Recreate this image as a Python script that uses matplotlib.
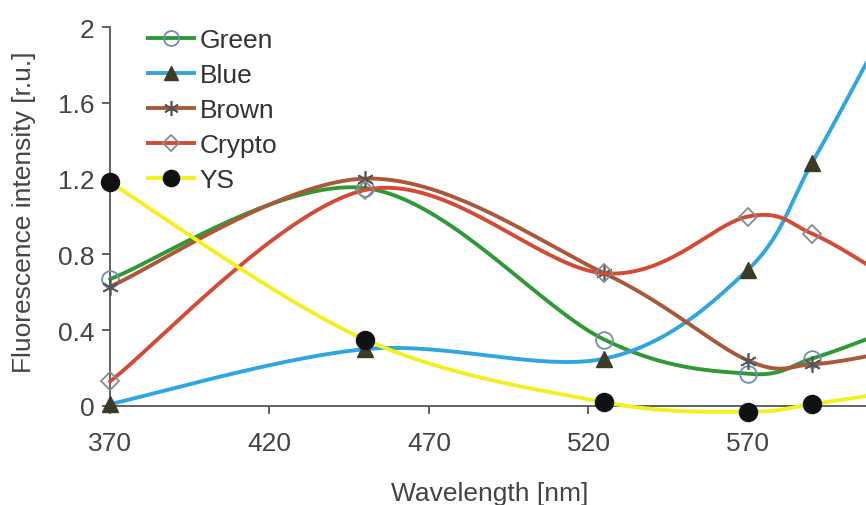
import numpy as np
import matplotlib
matplotlib.use("Agg")
import matplotlib.pyplot as plt
from matplotlib.lines import Line2D

# ---- data ----
wavelength = [370, 450, 525, 570, 590, 610]
green  = [0.67, 1.15, 0.35, 0.17, 0.25, 0.37]
blue   = [0.01, 0.30, 0.25, 0.72, 1.28, 1.90]
brown  = [0.63, 1.20, 0.70, 0.24, 0.22, 0.27]
crypto = [0.13, 1.14, 0.70, 1.00, 0.91, 0.72]
ys     = [1.18, 0.35, 0.02, -0.03, 0.01, 0.06]
series_names = ["Green", "Blue", "Brown", "Crypto", "YS"]
x_ticks = [370, 420, 470, 520, 570]
y_ticks = [0, 0.4, 0.8, 1.2, 1.6, 2]
y_tick_labels = ["0", "0.4", "0.8", "1.2", "1.6", "2"]

plt.rcParams['font.family'] = ['Liberation Sans', 'DejaVu Sans']

W, H = 866, 506
fig = plt.figure(figsize=(W / 100, H / 100), dpi=100)
ax = fig.add_axes([110 / W, (H - 407) / H, (W - 110) / W, (407 - 28) / H])

# scales for smoothing in screen space
sx = 3.2      # px per nm
sy = 189.5    # px per unit


def smooth(xs, vs, n=40):
    P = np.column_stack([np.asarray(xs, float) * sx, np.asarray(vs, float) * sy])
    out = []
    m = len(P)
    for i in range(m - 1):
        p0 = P[i - 1] if i > 0 else P[i]
        p1 = P[i]
        p2 = P[i + 1]
        p3 = P[i + 2] if i + 2 < m else P[i + 1]
        c1 = p1 + (p2 - p0) / 6.0
        c2 = p2 - (p3 - p1) / 6.0
        t = np.linspace(0, 1, n)[:, None]
        seg = ((1 - t) ** 3) * p1 + 3 * ((1 - t) ** 2) * t * c1 + 3 * (1 - t) * t ** 2 * c2 + t ** 3 * p2
        out.append(seg if i == 0 else seg[1:])
    S = np.vstack(out)
    return S[:, 0] / sx, S[:, 1] / sy


styles = [
    dict(data=green, color="#2f9a35", marker="o", mfc="none", mec="#6f8fb0", ms=12, mew=1.3),
    dict(data=blue, color="#2ea7df", marker="^", mfc="#3d3a26", mec="#3d3a26", ms=11, mew=1),
    dict(data=brown, color="#a9583a", marker=(6, 2, 0), mfc="#555555", mec="#555555", ms=12, mew=1.2),
    dict(data=crypto, color="#d44a35", marker="D", mfc="none", mec="#8a8a8a", ms=9, mew=1.3),
    dict(data=ys, color="#f4ef1e", marker="o", mfc="#111111", mec="#111111", ms=13, mew=1),
]

handles = []
for k, (name, st) in enumerate(zip(series_names, styles)):
    xs_s, ys_s = smooth(wavelength, st["data"])
    ax.plot(xs_s, ys_s, color=st["color"], lw=2.8, clip_on=False, zorder=3 + k,
            solid_capstyle="round")
    ax.plot(wavelength, st["data"], linestyle="none", marker=st["marker"], mfc=st["mfc"],
            mec=st["mec"], ms=st["ms"], mew=st["mew"], clip_on=False, zorder=3.5 + k)
    handles.append(Line2D([0], [0], color=st["color"], lw=2.8, marker=st["marker"],
                          mfc=st["mfc"], mec=st["mec"], ms=st["ms"] * 0.9, mew=st["mew"]))

for s in ["top", "right"]:
    ax.spines[s].set_visible(False)
for s in ["left", "bottom"]:
    ax.spines[s].set_color("#555555")
    ax.spines[s].set_linewidth(1.3)
    ax.spines[s].set_zorder(2)

ax.set_xticks(x_ticks)
ax.set_yticks(y_ticks)
ax.set_yticklabels(y_tick_labels)
ax.set_xlim(370, 607)
ax.set_ylim(0, 2)
ax.tick_params(axis="both", direction="out", length=6, width=1.3, color="#555555",
               labelsize=19, labelcolor="#444444")
ax.tick_params(axis="x", pad=12)
ax.tick_params(axis="y", pad=5)

ax.set_xlabel("Wavelength [nm]", fontsize=19, color="#444444")
ax.xaxis.set_label_coords((490 - 110) / 756, (407 - 482) / 379)
ax.set_ylabel("Fluorescence intensity [r.u.]", fontsize=19, color="#444444")
ax.yaxis.set_label_coords((36 - 110) / 756, (407 - 212) / 379)

leg = fig.legend(handles, series_names, loc="upper left",
                 bbox_to_anchor=(148 / W, 1 - 29 / H), frameon=False, fontsize=19,
                 handlelength=1.75, handletextpad=0.2, labelspacing=0.42,
                 borderaxespad=0, borderpad=0)
for t in leg.get_texts():
    t.set_color("#333333")

fig.savefig("out.png", dpi=100)
